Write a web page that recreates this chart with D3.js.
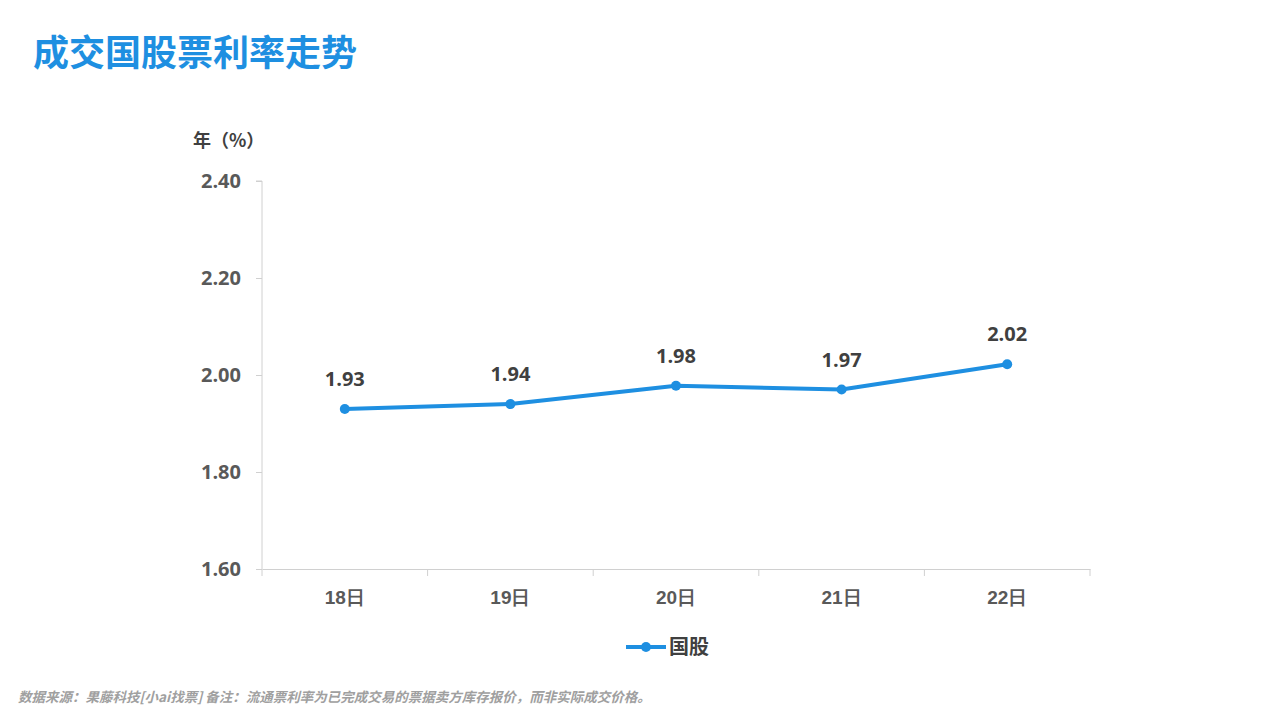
<!DOCTYPE html>
<html><head><meta charset="utf-8">
<script src="https://cdn.jsdelivr.net/npm/d3@7"></script>
<style>body{margin:0;background:#fff;font-family:"Noto Sans CJK SC","Noto Sans",sans-serif}</style>
</head><body>
<script>
const days = ["18日", "19日", "20日", "21日", "22日"];
const rates = [1.93, 1.94, 1.978, 1.97, 2.022];
const rateLabels = ["1.93", "1.94", "1.98", "1.97", "2.02"];
const yTicks = [1.6, 1.8, 2.0, 2.2, 2.4];

const W = 1280, H = 720, blue = "#1e8fe1", grey = "#595959", axisC = "#d0d0d0";
const svg = d3.select("body").append("svg").attr("width", W).attr("height", H);

svg.append("text").attr("x", 33).attr("y", 66).attr("fill", blue)
  .attr("font-size", 36).attr("font-weight", "bold").text("成交国股票利率走势");

const x = d3.scaleBand().domain(days).range([262, 1090]);
const y = d3.scaleLinear().domain([1.6, 2.4]).range([569, 181]);

// y axis
const ya = svg.append("g").attr("transform", "translate(262,0)")
  .call(d3.axisLeft(y).tickValues(yTicks).tickSize(6).tickPadding(15).tickFormat(d3.format(".2f")));
ya.select(".domain").attr("stroke", axisC).attr("d", `M-6,${y(2.4)}H0V${y(1.6)}`);
ya.selectAll(".tick line").attr("stroke", axisC);
ya.selectAll("text").attr("fill", grey).attr("font-size", 20).attr("font-weight", "bold")
  .attr("font-family", "'Open Sans',sans-serif");

// x axis
const xa = svg.append("g").attr("transform", "translate(0,569)")
  .call(d3.axisBottom(x).tickSize(0).tickPadding(22));
xa.select(".domain").attr("stroke", axisC);
xa.selectAll("text").attr("fill", grey).attr("font-size", 19).attr("font-weight", "bold");
xa.selectAll(".sep").data(days.slice(1)).join("line").attr("class", "sep")
  .attr("x1", d => x(d)).attr("x2", d => x(d)).attr("y1", 0).attr("y2", 7).attr("stroke", axisC);
xa.append("line").attr("x1", 1090).attr("x2", 1090).attr("y1", 0).attr("y2", 7).attr("stroke", axisC);
xa.append("line").attr("x1", 262).attr("x2", 262).attr("y1", 0).attr("y2", 7).attr("stroke", axisC);

svg.append("text").attr("x", 193).attr("y", 147).attr("fill", "#404040")
  .attr("font-size", 18).attr("font-weight", "bold").text("年（%）");

const cx = d => x(d) + x.bandwidth() / 2;
const pts = days.map((d, i) => [cx(d), y(rates[i])]);
svg.append("path").attr("d", d3.line()(pts)).attr("fill", "none")
  .attr("stroke", blue).attr("stroke-width", 4).attr("stroke-linejoin", "round");
svg.selectAll(".pt").data(pts).join("circle").attr("cx", d => d[0]).attr("cy", d => d[1])
  .attr("r", 5).attr("fill", blue);
svg.selectAll(".lbl").data(pts).join("text").attr("x", d => d[0]).attr("y", d => d[1] - 23)
  .attr("text-anchor", "middle").attr("fill", "#404040").attr("font-size", 20).attr("font-weight", "bold")
  .attr("font-family", "'Open Sans',sans-serif").text((d, i) => rateLabels[i]);

// legend
svg.append("line").attr("x1", 626).attr("x2", 666).attr("y1", 647).attr("y2", 647)
  .attr("stroke", blue).attr("stroke-width", 4);
svg.append("circle").attr("cx", 646).attr("cy", 647).attr("r", 5).attr("fill", blue);
svg.append("text").attr("x", 669).attr("y", 654).attr("fill", "#404040")
  .attr("font-size", 20).attr("font-weight", "bold").text("国股");

svg.append("text").attr("x", 18).attr("y", 702).attr("fill", "#a0a0a0")
  .attr("font-size", 13.5).attr("font-style", "italic").attr("font-weight", "bold")
  .text("数据来源：果藤科技[小ai找票] 备注：流通票利率为已完成交易的票据卖方库存报价，而非实际成交价格。");
</script>
</body></html>
